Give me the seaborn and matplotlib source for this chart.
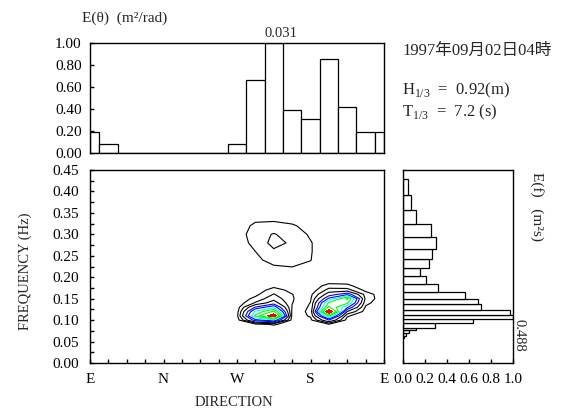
import numpy as np
import matplotlib
matplotlib.use("Agg")
import matplotlib.pyplot as plt
import matplotlib.transforms as mtransforms
from matplotlib.ticker import MultipleLocator, FormatStrFormatter
import seaborn as sns

# direction axis: 16 points, E=0, N=4, W=8, S=12, E=16 (wraps)
dir_pos = list(range(17))
dir_edges = [0] + [k + 0.5 for k in range(16)] + [16]
e_theta = [0.19, 0.085, 0, 0, 0, 0, 0, 0, 0.085, 0.66, 1.00, 0.39, 0.31, 0.855, 0.42, 0.19, 0.19]
dir_labels = ["E", "N", "W", "S", "E"]

# frequency spectrum E(f), normalised, bins
freq_edges = [0.0576, 0.0637, 0.0692, 0.0769, 0.0823, 0.0926, 0.1033, 0.1128, 0.1247, 0.1376,
              0.1499, 0.1648, 0.1835, 0.2033, 0.2222, 0.2429, 0.2651, 0.2949, 0.3241, 0.3567,
              0.3917, 0.4290]
e_f = [0.012, 0.025, 0.05, 0.115, 0.29, 0.64, 1.00, 0.97, 0.71, 0.68, 0.56, 0.315, 0.205,
       0.155, 0.24, 0.26, 0.30, 0.25, 0.115, 0.07, 0.048]

# directional spectrum, normalised, estimated on local grids around each peak
upper_cols = [8, 9, 10, 11, 12, 13]
upper_rows = [0.20, 0.22, 0.24, 0.26, 0.28, 0.30, 0.32, 0.34, 0.36]
upper_grid = [
    [0, 0, 0, 0, 0, 0],
    [0, 0.02, 0.03, 0.04, 0.03, 0],
    [0, 0.03, 0.08, 0.09, 0.052, 0],
    [0, 0.05, 0.11, 0.11, 0.055, 0],
    [0, 0.08, 0.14, 0.11, 0.055, 0],
    [0.01, 0.09, 0.125, 0.09, 0.04, 0],
    [0, 0.07, 0.08, 0.06, 0.02, 0],
    [0, 0.02, 0.02, 0.01, 0, 0],
    [0, 0, 0, 0, 0, 0],
]

left_cols = [7, 8, 9, 10, 11, 12]
left_rows = [0.07, 0.08, 0.09, 0.10, 0.11, 0.12, 0.13, 0.14, 0.15, 0.16, 0.17, 0.18, 0.19, 0.20]
left_grid = [
    [0, 0, 0, 0, 0, 0],
    [0, 0, 0, 0, 0, 0],
    [0, 0, 0.02, 0.06, 0.01, 0],
    [0, 0.01, 0.35, 0.45, 0.02, 0],
    [0, 0.03, 0.60, 0.98, 0.03, 0],
    [0, 0.02, 0.50, 0.70, 0.035, 0],
    [0, 0.01, 0.31, 0.45, 0.045, 0],
    [0, 0, 0.13, 0.25, 0.052, 0],
    [0, 0, 0.07, 0.17, 0.056, 0],
    [0, 0, 0.03, 0.125, 0.052, 0],
    [0, 0, 0.01, 0.08, 0.03, 0],
    [0, 0, 0, 0.03, 0.01, 0],
    [0, 0, 0, 0, 0, 0],
    [0, 0, 0, 0, 0, 0],
]

right_cols = [11, 12, 13, 14, 15, 16]
right_rows = [0.07, 0.08, 0.09, 0.10, 0.11, 0.12, 0.13, 0.14, 0.15, 0.16, 0.17, 0.18, 0.19, 0.20, 0.21]
right_grid = [
    [0, 0, 0, 0, 0, 0],
    [0, 0, 0, 0, 0, 0],
    [0, 0, 0.04, 0, 0, 0],
    [0, 0.03, 0.30, 0.02, 0, 0],
    [0, 0.06, 0.60, 0.06, 0, 0],
    [0, 0.07, 1.00, 0.20, 0.02, 0],
    [0, 0.06, 0.70, 0.40, 0.04, 0],
    [0, 0.052, 0.60, 0.60, 0.07, 0],
    [0, 0.04, 0.40, 0.70, 0.10, 0],
    [0, 0.03, 0.25, 0.36, 0.09, 0],
    [0, 0, 0.15, 0.15, 0.03, 0],
    [0, 0, 0.08, 0.07, 0, 0],
    [0, 0, 0.02, 0.02, 0, 0],
    [0, 0, 0, 0, 0, 0],
    [0, 0, 0, 0, 0, 0],
]

line_levels = [0.05, 0.12, 0.2, 0.3, 0.38, 0.48, 0.58, 0.68]
line_colors = ["black", "black", "black", "blue", "blue", "cyan", "lime", "lime"]

sns.set_theme(style="ticks")
plt.rcParams["font.family"] = ["Liberation Serif", "Noto Sans CJK JP"]
plt.rcParams["mathtext.fontset"] = "custom"
plt.rcParams["mathtext.rm"] = "Liberation Serif"
plt.rcParams["axes.edgecolor"] = "black"
plt.rcParams["axes.linewidth"] = 1.0

W, H = 566, 412
fig = plt.figure(figsize=(W / 100, H / 100), dpi=100)
fig.patch.set_facecolor("white")


def box(x0, y0, x1, y1):
    return [x0 / W, 1 - y1 / H, (x1 - x0) / W, (y1 - y0) / H]


def ftext(x, y, s, **kw):
    fig.text(x / W, 1 - y / H, s, **kw)


ax_top = fig.add_axes(box(90, 43, 384, 153))
ax_main = fig.add_axes(box(90, 170, 384, 363))
ax_right = fig.add_axes(box(403, 170, 513, 363))

bar_kw = dict(stat="count", fill=True, color="white", edgecolor="black", linewidth=0.9, alpha=1)

# top: directional distribution
sns.histplot(x=dir_pos, weights=e_theta, bins=dir_edges, ax=ax_top, **bar_kw)
ax_top.set_xlim(0, 16)
ax_top.set_ylim(0, 1.0)
ax_top.set_xticks([])
ax_top.yaxis.set_major_locator(MultipleLocator(0.2))
ax_top.yaxis.set_major_formatter(FormatStrFormatter("%.2f"))
ax_top.tick_params(axis="y", direction="in", length=3, width=1, pad=6, labelsize=11, colors="black")
ax_top.set_xlabel("")
ax_top.set_ylabel("")
ax_top.text(9.5, 1.03, "0.031", ha="left", va="bottom", fontsize=10.5)

# main: directional spectrum contours
def draw_blob(ax, cols, rows, grid):
    z = np.array(grid, dtype=float)
    ax.contourf(cols, rows, z, levels=[0.85, 2.0], colors=["red"])
    ax.contour(cols, rows, z, levels=line_levels, colors=line_colors, linewidths=0.8)


draw_blob(ax_main, upper_cols, upper_rows, upper_grid)
draw_blob(ax_main, left_cols, left_rows, left_grid)
draw_blob(ax_main, right_cols, right_rows, right_grid)
ax_main.set_xlim(0, 16)
ax_main.set_ylim(0, 0.45)
ax_main.set_xticks(range(17))
ax_main.set_xticklabels([dir_labels[k // 4] if k % 4 == 0 else "" for k in range(17)])
ax_main.yaxis.set_major_locator(MultipleLocator(0.05))
ax_main.yaxis.set_minor_locator(MultipleLocator(0.025))
ax_main.yaxis.set_major_formatter(FormatStrFormatter("%.2f"))
ax_main.tick_params(axis="both", which="both", direction="in", length=3, width=1,
                    labelsize=11, colors="black")
ax_main.tick_params(axis="y", pad=8)
ax_main.tick_params(axis="x", pad=7)

# right: frequency spectrum
freq_centers = [(a + b) / 2 for a, b in zip(freq_edges[:-1], freq_edges[1:])]
sns.histplot(y=freq_centers, weights=e_f, bins=freq_edges, ax=ax_right, **bar_kw)
ax_right.set_xlim(0, 1.0)
ax_right.set_ylim(0, 0.45)
ax_right.set_yticks([])
ax_right.xaxis.set_major_locator(MultipleLocator(0.2))
ax_right.xaxis.set_major_formatter(FormatStrFormatter("%.1f"))
ax_right.tick_params(axis="x", direction="in", length=3, width=1, pad=7, labelsize=11, colors="black")
ax_right.set_xlabel("")
ax_right.set_ylabel("")
trans = mtransforms.blended_transform_factory(ax_right.transAxes, ax_right.transData)
ax_right.text(1.0, 0.1026, "0.488", transform=trans, rotation=-90, ha="left", va="top", fontsize=10.5)

for a in (ax_top, ax_main, ax_right):
    for s in a.spines.values():
        s.set_visible(True)
        s.set_color("black")

ftext(82, 18, "E(θ)  (m²/rad)", ha="left", va="center", fontsize=11)
ftext(402, 51, "1997年09月02日04時", ha="left", va="center", fontsize=12)
ftext(402, 90, r"H$_{1/3}$  =  0.92(m)", ha="left", va="center", fontsize=12)
ftext(402, 112, r"T$_{1/3}$  =  7.2 (s)", ha="left", va="center", fontsize=12)
ftext(25, 271, "FREQUENCY (Hz)", rotation=90, ha="center", va="center", fontsize=10.5)
ftext(234, 403, "DIRECTION", ha="center", va="center", fontsize=10.5)
ftext(537, 207, "E(f)   (m²s)", rotation=-90, ha="center", va="center", fontsize=11)

fig.savefig("out.png", dpi=100, facecolor="white")
